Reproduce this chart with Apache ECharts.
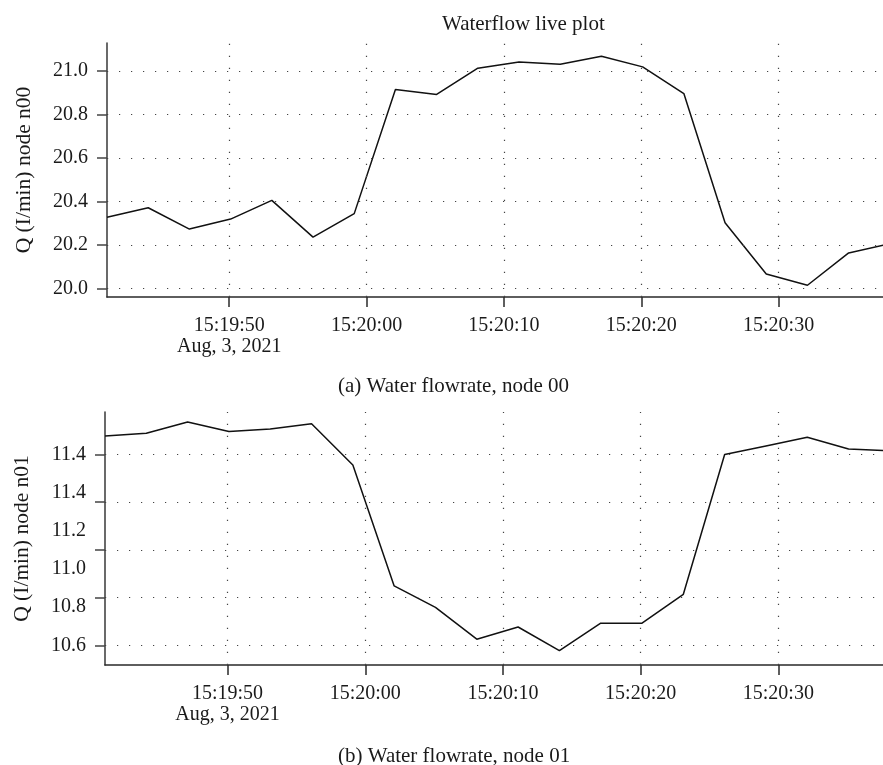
<!DOCTYPE html>
<html><head><meta charset="utf-8">
<script src="https://cdn.jsdelivr.net/npm/echarts@6/dist/echarts.min.js"></script>
<style>html,body{margin:0;padding:0;background:#fff}#c{width:883px;height:765px}</style>
</head><body><div id="c"></div>
<script>
// ---- data ----
const times = ['15:19:41.1','15:19:44.1','15:19:47.1','15:19:50.1','15:19:53.1','15:19:56.1','15:19:59.1',
  '15:20:02.1','15:20:05.1','15:20:08.1','15:20:11.1','15:20:14.1','15:20:17.1','15:20:20.1','15:20:23.1',
  '15:20:26.1','15:20:29.1','15:20:32.1','15:20:35.1','15:20:38.1'];
const flowNode00 = [20.327, 20.371, 20.273, 20.319, 20.405, 20.236, 20.344, 20.916, 20.893, 21.014,
  21.043, 21.032, 21.069, 21.020, 20.897, 20.302, 20.066, 20.014, 20.163, 20.205];
const flowNode01 = [11.477, 11.488, 11.535, 11.495, 11.506, 11.528, 11.355, 10.849, 10.759, 10.626,
  10.677, 10.578, 10.693, 10.693, 10.814, 11.399, 11.435, 11.471, 11.422, 11.414];
const xTickTimes = ['15:19:50','15:20:00','15:20:10','15:20:20','15:20:30'];
const dateLabel = 'Aug, 3, 2021';
const xRange = ['15:19:41.1','15:20:37.6'];
const yTicks00 = [20.0, 20.2, 20.4, 20.6, 20.8, 21.0];
const yRange00 = [19.96, 21.13];
const yTicks01 = [10.6, 10.8, 11.0, 11.2, 11.4];
const yLabelPos01 = [10.6, 10.76, 10.92, 11.08, 11.24, 11.4];
const yLabelText01 = ['10.6', '10.8', '11.0', '11.2', '11.4', '11.4'];
const yRange01 = [10.518, 11.577];
const titleText = 'Waterflow live plot';
const yName00 = 'Q (I/min) node n00';
const yName01 = 'Q (I/min) node n01';
const caption00 = '(a) Water flowrate, node 00';
const caption01 = '(b) Water flowrate, node 01';

// ---- helpers ----
function toSec(s){ const p = s.split(':'); return (+p[0])*3600 + (+p[1])*60 + parseFloat(p[2]); }
function pad(n){ return (n<10?'0':'') + n; }
function fmtSec(v){ const t = Math.round(v); return pad(Math.floor(t/3600)) + ':' + pad(Math.floor(t/60)%60) + ':' + pad(t%60); }
const xTicks = xTickTimes.map(toSec);
const FONT = 'Liberation Serif';
const TXT = '#1a1a1a';
const AX = '#2a2a2a';

function xAxisDef(gi){
  return {
    type:'value', gridIndex:gi, min:toSec(xRange[0]), max:toSec(xRange[1]),
    axisLine:{show:true, onZero:false, lineStyle:{color:AX, width:1.6}},
    axisTick:{show:true, length:10, customValues:xTicks, lineStyle:{color:AX, width:1.5}},
    axisLabel:{customValues:xTicks, margin:18, fontFamily:FONT, fontSize:20, color:TXT, lineHeight:21,
      formatter:function(v){ const s = fmtSec(v); return s === xTickTimes[0] ? s + '\n' + dateLabel : s; }},
    splitLine:{show:false}
  };
}
function yAxisDef(gi, range, ticks, labelPos, labelFn, name){
  return {
    type:'value', gridIndex:gi, min:range[0], max:range[1],
    name:name, nameLocation:'middle', nameGap:72, nameRotate:90,
    nameTextStyle:{fontFamily:FONT, fontSize:21.5, color:TXT},
    axisLine:{show:true, lineStyle:{color:'#444', width:1.6}},
    axisTick:{show:true, length:10, customValues:ticks, lineStyle:{color:'#444', width:1.5}},
    axisLabel:{customValues:labelPos, margin:19, fontFamily:FONT, fontSize:20, color:TXT, formatter:labelFn},
    splitLine:{show:false}
  };
}
function gridMarks(yt){
  return {
    silent:true, animation:false, symbol:['none','none'], label:{show:false},
    emphasis:{disabled:true},
    lineStyle:{type:[1.2,10.8], color:'#444', width:1.2},
    data: xTicks.map(v=>({xAxis:v})).concat(yt.map(v=>({yAxis:v})))
  };
}
const xs = times.map(toSec);
const chart = echarts.init(document.getElementById('c'), null, {renderer:'canvas'});
chart.setOption({
  backgroundColor:'#fff',
  animation:false,
  title:[
    {text:titleText, left:437, top:9, textStyle:{fontFamily:FONT, fontSize:21, fontWeight:'normal', color:TXT}},
    {text:caption00, left:333, top:371, textStyle:{fontFamily:FONT, fontSize:21, fontWeight:'normal', color:TXT}},
    {text:caption01, left:333, top:741, textStyle:{fontFamily:FONT, fontSize:21, fontWeight:'normal', color:TXT}}
  ],
  grid:[
    {left:107, top:43, right:0, height:254},
    {left:105, top:412, right:0, height:253}
  ],
  xAxis:[xAxisDef(0), xAxisDef(1)],
  yAxis:[
    yAxisDef(0, yRange00, yTicks00, yTicks00, v=>v.toFixed(1), yName00),
    yAxisDef(1, yRange01, yTicks01, yLabelPos01, function(v){
      let bi=0; for(let i=0;i<yLabelPos01.length;i++){ if(Math.abs(yLabelPos01[i]-v)<Math.abs(yLabelPos01[bi]-v)) bi=i; }
      return yLabelText01[bi];
    }, yName01)
  ],
  series:[
    {type:'line', xAxisIndex:0, yAxisIndex:0, data:xs.map((x,i)=>[x, flowNode00[i]]), symbol:'none',
      lineStyle:{color:'#111', width:1.5}, clip:true, markLine:gridMarks(yTicks00)},
    {type:'line', xAxisIndex:1, yAxisIndex:1, data:xs.map((x,i)=>[x, flowNode01[i]]), symbol:'none',
      lineStyle:{color:'#111', width:1.5}, clip:true, markLine:gridMarks(yTicks01)}
  ]
});
</script></body></html>
